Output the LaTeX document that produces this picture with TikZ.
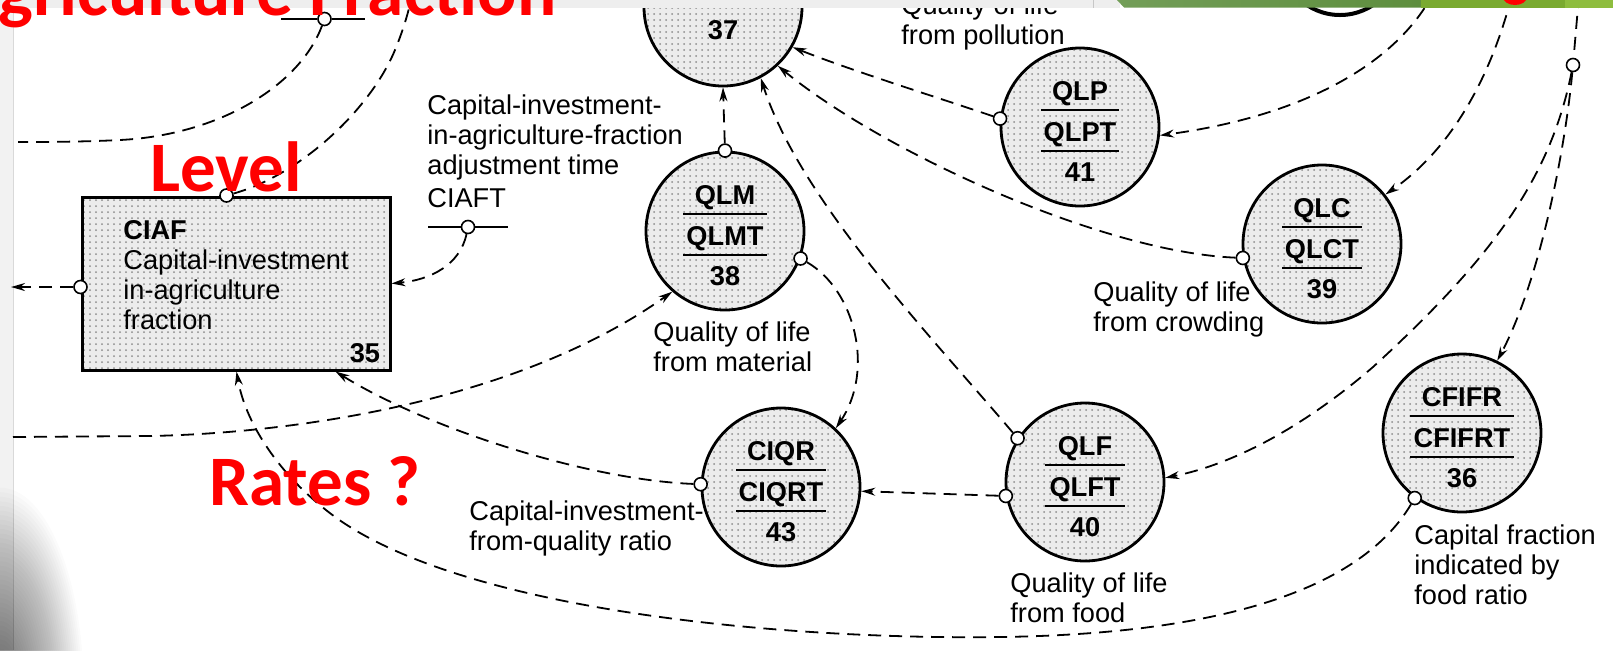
\documentclass[tikz,border=0pt]{standalone}
\usepackage{fontspec}
\setmainfont{Liberation Sans}
\newfontfamily\redfont{Carlito}
\usetikzlibrary{arrows.meta,calc,patterns}
\definecolor{stripgray}{HTML}{EEEEEE}
\definecolor{greenA}{HTML}{739E58}
\definecolor{greenD}{HTML}{5E8E3E}
\definecolor{greenB}{HTML}{7AAA30}
\definecolor{greenC}{HTML}{8EBD3E}
\definecolor{stip}{HTML}{ECECEC}
\tikzset{
  dlink/.style={line width=0.9pt, dash pattern=on 6.5pt off 4pt},
  arr/.style={-{Stealth[length=7pt,width=4pt]}},
  smallc/.style={circle, draw, fill=white, line width=0.8pt, minimum size=6.5pt, inner sep=0pt},
  bigc/.style={circle, draw, line width=1.4pt, minimum size=79pt, inner sep=0pt,
    preaction={fill=stip}, pattern=dots, pattern color=black!45},
  levelbox/.style={rectangle, draw, line width=1.5pt, inner sep=0pt,
    preaction={fill=stip}, pattern=dots, pattern color=black!45},
  lbl/.style={font=\fontsize{13.6}{15}\selectfont, align=left, anchor=north west, inner sep=0pt},
  code/.style={font=\fontsize{13.6}{15}\selectfont\bfseries, inner sep=0pt, text height=9.7pt, text depth=0pt},
  codeline/.style={line width=1.3pt},
  redtxt/.style={font=\redfont\bfseries\fontsize{35.5}{40}\selectfont, text=red, inner sep=0pt, anchor=base west}
}
\newcommand\qlnode[7]{%
  \node[bigc] (#1) at (#2,#3) {};
  \node[code] (#1-t) at ($(#1)+(0,-36)$) {#4};
  \draw[codeline] ($(#1)+(-#7,-17)$) -- ($(#1)+(#7,-17)$);
  \node[code] (#1-b) at ($(#1)+(0,5)$) {#5};
  \draw[codeline] ($(#1)+(-#7,24)$) -- ($(#1)+(#7,24)$);
  \node[code] (#1-n) at ($(#1)+(0,45)$) {#6};
}
\begin{document}
\begin{tikzpicture}[x=0.5pt,y=-0.5pt]
\useasboundingbox (0,0) rectangle (1613,650);
\clip (0,0) rectangle (1613,650);
\fill[white] (0,0) rectangle (1613,650);

% left strip and shadow
\fill[black!5] (0,7.5) rectangle (13,650);
\draw[black!15,line width=0.4pt] (13,7.5) -- (13,650);
\begin{scope}
  \clip (0,400) rectangle (260,650);
  \foreach \i in {1,...,44} {
    \fill[black, opacity=0.016] (0,690) ellipse ({1.9*\i} and {4.6*\i});
  }
\end{scope}

% big circles
\node[bigc] (q37) at (723,7) {};
\node[code] (q37-n) at (723,30) {37};
\qlnode{qlm}{725}{231}{QLM}{QLMT}{38}{42}
\qlnode{qlp}{1080}{127}{QLP}{QLPT}{41}{39}
\qlnode{qlc}{1322}{244}{QLC}{QLCT}{39}{40}
\qlnode{qlf}{1085}{482}{QLF}{QLFT}{40}{40}
\qlnode{ciqr}{781}{487}{CIQR}{CIQRT}{43}{45}
\qlnode{cfifr}{1462}{433}{CFIFR}{CFIFRT}{36}{52}

% level box
\node[levelbox, minimum width=154pt, minimum height=86.5pt] (ciaf) at (236,283.5) {};
\node[lbl] (ciaf-t) at (123,220) {\textbf{CIAF}\\Capital-investment\\in-agriculture\\fraction};
\node[code] (ciaf-n) at (365,353) {35};

% black arc at top
\draw[line width=2pt] (1340,-45) circle (60);

% labels
\node[lbl] (qlp-lab) at (901,-6) {Quality of life\\from pollution};
\node[lbl] (ciaft-lab) at (427,94) {Capital-investment-\\in-agriculture-fraction\\adjustment time\\[1.7pt]CIAFT};
\node[lbl] (qlm-lab) at (653,321) {Quality of life\\from material};
\node[lbl] (qlc-lab) at (1093,281) {Quality of life\\from crowding};
\node[lbl] (ciqr-lab) at (469,500) {Capital-investment-\\from-quality ratio};
\node[lbl] (qlf-lab) at (1010,572) {Quality of life\\from food};
\node[lbl] (cfifr-lab) at (1414,524) {Capital fraction\\indicated by\\food ratio};

% small circles
\node[smallc] (s-qlm-top) at (qlm.90) {};
\node[smallc] (s-qlm-r) at (qlm.-20) {};
\node[smallc] (s-qlp-l) at (qlp.174) {};
\node[smallc] (s-qlc-l) at (qlc.190) {};
\node[smallc] (s-qlf-ul) at (qlf.147) {};
\node[smallc] (s-qlf-l) at (qlf.190) {};
\node[smallc] (s-ciqr-l) at (ciqr.178) {};
\node[smallc] (s-cfifr) at (cfifr.234) {};
\node[smallc] (s-tr) at (1573,65) {};
\node[smallc] (s-box-top) at ($(ciaf.north west)+(146,0)$) {};
\node[smallc] (s-box-l) at ($(ciaf.west)+(0,3.5)$) {};
\node[smallc] (s-rate) at (324.5,19) {};
\node[smallc] (s-ciaft) at (468,227) {};

% rate symbol and constant
\coordinate (rate-a) at (281,19);
\coordinate (rate-b) at (365,19);
\draw[line width=1.4pt] (rate-a) -- (s-rate.west);
\draw[line width=0.9pt] (s-rate.east) -- (rate-b);
\coordinate (k-a) at (428,227);
\coordinate (k-b) at (508,227);
\draw[line width=1.3pt] (k-a) -- (s-ciaft.west);
\draw[line width=1.3pt] (s-ciaft.east) -- (k-b);

% connectors
\draw[dlink,arr] (s-qlm-top) -- (q37.270);
\draw[dlink,arr] (s-qlp-l) .. controls (930,95) and (850,70) .. (q37.-30);
\draw[dlink,arr] (s-qlc-l) .. controls (1100,252) and (880,150) .. (q37.-47);
\draw[dlink,arr] (s-qlf-ul) .. controls (930,335) and (800,200) .. (q37.-62);
\coordinate (top1) at (1435,-10);
\draw[dlink,arr] (top1) .. controls (1400,60) and (1310,115) .. (qlp.-6);
\coordinate (top2) at (1512,-5);
\draw[dlink,arr] (top2) .. controls (1490,80) and (1450,150) .. (qlc.38);
\coordinate (top3) at (1579,-5);
\draw[dlink] (top3) -- (s-tr);
\draw[dlink,arr] (s-tr) .. controls (1565,150) and (1540,280) .. (cfifr.64);
\draw[dlink,arr] (s-tr) .. controls (1550,180) and (1490,260) .. (1373,367)
   .. controls (1300,430) and (1230,465) .. (qlf.3);
\draw[dlink,arr] (s-qlm-r) .. controls (855,290) and (875,370) .. (ciqr.47);
\draw[dlink,arr] (s-qlf-l) -- (ciqr.-3);
\draw[dlink,arr] (s-ciqr-l) .. controls (590,480) and (430,430) .. ($(ciaf.south west)+(255,0)$);
\coordinate (left1) at (13,437);
\draw[dlink,arr] (left1) -- (150,436) .. controls (300,433) and (520,400) .. (qlm.229);
\draw[dlink,arr] (s-cfifr) .. controls (1360,590) and (1220,634) .. (1000,637)
   .. controls (780,640) and (450,610) .. (326,510)
   .. controls (275,470) and (245,420) .. ($(ciaf.south west)+(156,0)$);
\coordinate (left2) at (18,142);
\draw[dlink] (s-rate) .. controls (300,85) and (220,135) .. (120,140)
   .. controls (80,142) and (40,142) .. (left2);
\coordinate (top4) at (412,-5);
\draw[dlink] (s-box-top) .. controls (300,175) and (370,110) .. (395,50)
   .. controls (402,33) and (408,15) .. (top4);
\draw[dlink,arr] (s-ciaft) .. controls (460,265) and (430,280) .. (ciaf.east);
\coordinate (left3) at (11,287);
\draw[dlink,arr] (s-box-l) -- (left3);

% top strip
\fill[stripgray] (0,0) rectangle (1120,7.5);
\draw[black!22, line width=0.5pt] (1093,0) -- (1093,7.5);
\shade[left color=greenA, right color=greenD] (1117,0) -- (1421,0) -- (1421,7.5) -- (1124,7.5) -- cycle;
\fill[greenB] (1421,0) rectangle (1565,7.5);
\fill[greenC] (1565,0) rectangle (1613,7.5);
\fill[red] (1515,-3) ellipse (12 and 8);

% red annotations
\node[redtxt, anchor=base east, font=\redfont\bfseries\fontsize{36.7}{40}\selectfont] (title) at (557,15) {Agriculture Fraction};
\node[redtxt] (lvl) at (150,191) {Level};
\node[redtxt] (rates) at (209,505) {Rates ?};
\end{tikzpicture}
\end{document}
